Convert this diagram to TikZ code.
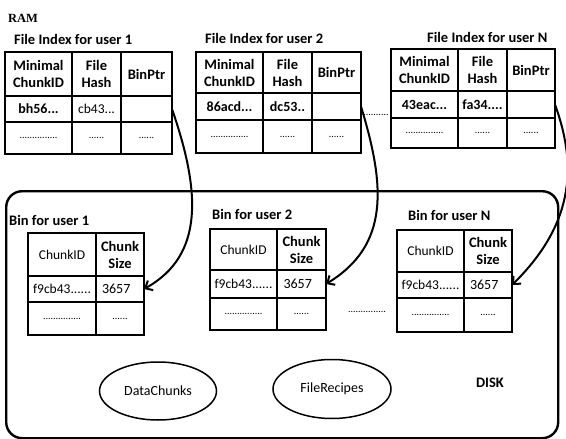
\documentclass[tikz,border=0pt]{standalone}
\usepackage{fontspec}
\setmainfont{Carlito}
\newfontfamily\ramfont{Liberation Serif}
\usetikzlibrary{arrows.meta,shapes.geometric}

\begin{document}
\begin{tikzpicture}[x=1pt, y=-1pt,
  font=\fontsize{13.5}{16}\selectfont,
  cell/.style={draw, line width=1.6pt, anchor=north west, inner sep=0pt, outer sep=0pt, align=center},
  hd/.style={font=\fontsize{14.5}{17}\selectfont\bfseries},
  dt/.style={font=\fontsize{13.5}{16}\selectfont},
  dtb/.style={font=\fontsize{14}{16}\selectfont\bfseries},
  num/.style={font=\fontsize{14}{16}\selectfont, text width=36pt, align=left},
  dotsty/.style={font=\fontsize{10}{12}\selectfont},
  title/.style={anchor=west, inner sep=0pt, font=\fontsize{14.5}{17}\selectfont\bfseries},
  store/.style={draw, line width=1.5pt, ellipse, inner sep=0pt, font=\fontsize{14}{16}\selectfont},
  conn/.style={line width=2pt, -{Straight Barb[length=6pt, width=11pt, line width=2pt]}}
]
\useasboundingbox (0,0) rectangle (566,439);

% RAM label
\node[anchor=west, inner sep=0pt, font=\ramfont\fontsize{12.5}{14}\selectfont\bfseries] (ram) at (8,18) {RAM};

% ---------- File index, user 1 ----------
\node[title] (fi1) at (14,39) {File Index for user 1};
\node[cell, hd, minimum width=67pt, minimum height=44pt] (a11) at (5,52) {Minimal\\ChunkID};
\node[cell, hd, minimum width=49pt, minimum height=44pt] (a12) at (72,52) {File\\Hash};
\node[cell, hd, minimum width=51pt, minimum height=44pt] (a13) at (121,52) {BinPtr};
\node[cell, dtb, minimum width=67pt, minimum height=26pt] (a21) at (5,96) {bh56...};
\node[cell, dt, minimum width=49pt, minimum height=26pt] (a22) at (72,96) {cb43...};
\node[cell, minimum width=51pt, minimum height=26pt] (p1) at (121,96) {};
\node[cell, dotsty, minimum width=67pt, minimum height=32pt] (a31) at (5,122) {...............};
\node[cell, dotsty, minimum width=49pt, minimum height=32pt] (a32) at (72,122) {......};
\node[cell, dotsty, minimum width=51pt, minimum height=32pt] (a33) at (121,122) {......};

% ---------- File index, user 2 ----------
\node[title] (fi2) at (205,38) {File Index for user 2};
\node[cell, hd, minimum width=67pt, minimum height=41pt] (b11) at (196,52) {Minimal\\ChunkID};
\node[cell, hd, minimum width=49pt, minimum height=41pt] (b12) at (263,52) {File\\Hash};
\node[cell, hd, minimum width=49pt, minimum height=41pt] (b13) at (312,52) {BinPtr};
\node[cell, dtb, minimum width=67pt, minimum height=27pt] (b21) at (196,93) {86acd...};
\node[cell, dtb, minimum width=49pt, minimum height=27pt] (b22) at (263,93) {dc53..};
\node[cell, minimum width=49pt, minimum height=27pt] (p2) at (312,93) {};
\node[cell, dotsty, minimum width=67pt, minimum height=33pt] (b31) at (196,120) {...............};
\node[cell, dotsty, minimum width=49pt, minimum height=33pt] (b32) at (263,120) {......};
\node[cell, dotsty, minimum width=49pt, minimum height=33pt] (b33) at (312,120) {......};

% gap between index tables
\node[dotsty, inner sep=0pt] (gapA) at (376,115) {..........};

% ---------- File index, user N ----------
\node[title] (fi3) at (427,37) {File Index for user N};
\node[cell, hd, minimum width=67pt, minimum height=42pt] (c11) at (391,49) {Minimal\\ChunkID};
\node[cell, hd, minimum width=49pt, minimum height=42pt] (c12) at (458,49) {File\\Hash};
\node[cell, hd, minimum width=48pt, minimum height=42pt] (c13) at (507,49) {BinPtr};
\node[cell, dtb, minimum width=67pt, minimum height=27pt] (c21) at (391,91) {43eac...};
\node[cell, dtb, minimum width=49pt, minimum height=27pt] (c22) at (458,91) {fa34....};
\node[cell, minimum width=48pt, minimum height=27pt] (p3) at (507,91) {};
\node[cell, dotsty, minimum width=67pt, minimum height=30pt] (c31) at (391,118) {...............};
\node[cell, dotsty, minimum width=49pt, minimum height=30pt] (c32) at (458,118) {......};
\node[cell, dotsty, minimum width=48pt, minimum height=30pt] (c33) at (507,118) {......};

% ---------- Disk ----------
\node[draw, line width=2.4pt, rounded corners=16pt, anchor=north west, inner sep=0pt,
      minimum width=552pt, minimum height=247pt] (disk) at (5,190) {};

% Bin, user 1
\node[title] (bt1) at (9,220) {Bin for user 1};
\node[cell, dt, minimum width=68pt, minimum height=43pt] (d11) at (28,233) {ChunkID};
\node[cell, hd, minimum width=48pt, minimum height=43pt] (d12) at (96,233) {Chunk\\Size};
\node[cell, dt, minimum width=68pt, minimum height=26pt] (d21) at (28,276) {f9cb43......};
\node[cell, num, minimum width=48pt, minimum height=26pt] (s1) at (96,276) {3657};
\node[cell, dotsty, minimum width=68pt, minimum height=33pt] (d31) at (28,302) {...............};
\node[cell, dotsty, minimum width=48pt, minimum height=33pt] (d32) at (96,302) {......};

% Bin, user 2
\node[title] (bt2) at (212,214) {Bin for user 2};
\node[cell, dt, minimum width=67pt, minimum height=41pt] (e11) at (210,229) {ChunkID};
\node[cell, hd, minimum width=49pt, minimum height=41pt] (e12) at (277,229) {Chunk\\Size};
\node[cell, dt, minimum width=67pt, minimum height=28pt] (e21) at (210,270) {f9cb43......};
\node[cell, num, minimum width=49pt, minimum height=28pt] (s2) at (277,270) {3657};
\node[cell, dotsty, minimum width=67pt, minimum height=32pt] (e31) at (210,298) {...............};
\node[cell, dotsty, minimum width=49pt, minimum height=32pt] (e32) at (277,298) {......};

% gap between bins
\node[dotsty, inner sep=0pt] (gapB) at (367,312) {...............};

% Bin, user N
\node[title] (bt3) at (408,215) {Bin for user N};
\node[cell, dt, minimum width=67pt, minimum height=42pt] (f11) at (397,230) {ChunkID};
\node[cell, hd, minimum width=48pt, minimum height=42pt] (f12) at (464,230) {Chunk\\Size};
\node[cell, dt, minimum width=67pt, minimum height=26pt] (f21) at (397,272) {f9cb43......};
\node[cell, num, minimum width=48pt, minimum height=26pt] (s3) at (464,272) {3657};
\node[cell, dotsty, minimum width=67pt, minimum height=34pt] (f31) at (397,298) {...............};
\node[cell, dotsty, minimum width=48pt, minimum height=34pt] (f32) at (464,298) {......};

% stores on disk
\node[store, minimum width=117pt, minimum height=58pt] (chunks) at (158,391) {DataChunks};
\node[store, minimum width=118pt, minimum height=59pt] (recipes) at (332,389) {FileRecipes};
\node[font=\fontsize{14.5}{17}\selectfont\bfseries] (disklbl) at (490,383) {DISK};

% bin pointers
\draw[conn] (p1.east) .. controls (200,190) and (205,255) .. (s1.east);
\draw[conn] (p2.east) .. controls (385,185) and (390,245) .. (s2.east);
\draw[conn] (p3.east) .. controls (575,160) and (578,220) .. (s3.east);
\end{tikzpicture}
\end{document}
